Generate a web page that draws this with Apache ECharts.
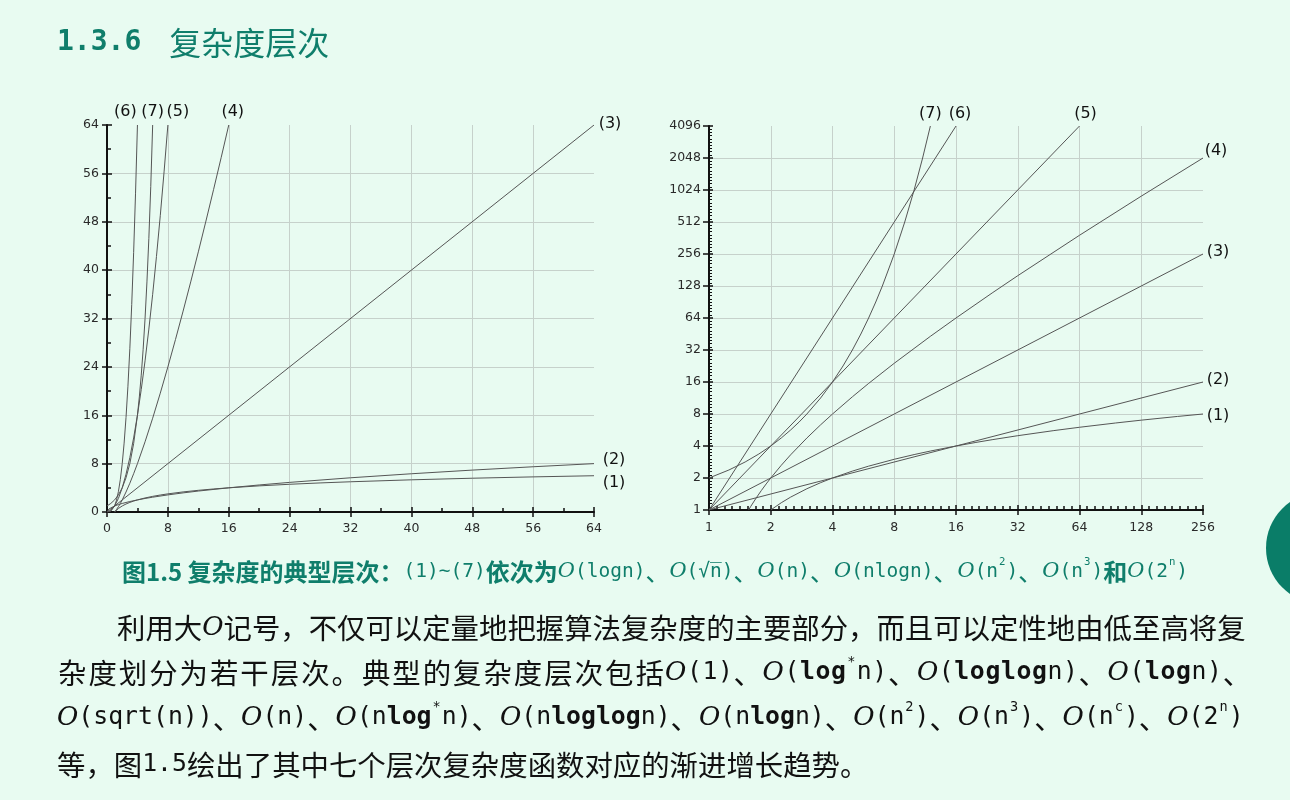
<!DOCTYPE html>
<html><head><meta charset="utf-8">
<script src="https://cdn.jsdelivr.net/npm/echarts@6/dist/echarts.min.js"></script>
<style>html,body{margin:0;padding:0;background:#E8FBF1;}#c{width:1290px;height:800px;}</style>
</head><body><div id="c"></div>
<script>
// ---------------- data ----------------
const seriesNames = ['(1)','(2)','(3)','(4)','(5)','(6)','(7)'];
// left chart (linear axes), [n, f(n)]
const logN_L  = [[1,0],[1.1,0.1375],[1.25,0.322],[1.5,0.585],[1.75,0.807],[2,1],[2.5,1.322],[3,1.585],[3.5,1.807],[4,2],[5,2.322],[6,2.585],[7,2.807],[8,3],[10,3.322],[12,3.585],[14,3.807],[16,4],[20,4.322],[24,4.585],[28,4.807],[32,5],[40,5.322],[48,5.585],[56,5.807],[64,6]];
const sqrtN_L = [[0,0],[0.1,0.316],[0.25,0.5],[0.5,0.707],[1,1],[1.5,1.225],[2,1.414],[3,1.732],[4,2],[5,2.236],[6,2.449],[8,2.828],[10,3.162],[12,3.464],[16,4],[20,4.472],[24,4.899],[32,5.657],[40,6.325],[48,6.928],[56,7.483],[64,8]];
const n_L     = [[0,0],[64,64]];
const nlogn_L = [[1,0],[1.25,0.402],[1.5,0.877],[1.75,1.413],[2,2],[2.5,3.305],[3,4.755],[3.5,6.326],[4,8],[5,11.61],[6,15.51],[7,19.65],[8,24],[9,28.53],[10,33.22],[11,38.05],[12,43.02],[13,48.11],[14,53.3],[15,58.6],[16,64]];
const n2_L    = [[0,0],[0.5,0.25],[1,1],[1.5,2.25],[2,4],[2.5,6.25],[3,9],[3.5,12.25],[4,16],[4.5,20.25],[5,25],[5.5,30.25],[6,36],[6.5,42.25],[7,49],[7.5,56.25],[8,64]];
const n3_L    = [[0,0],[0.5,0.125],[1,1],[1.25,1.953],[1.5,3.375],[1.75,5.359],[2,8],[2.25,11.39],[2.5,15.63],[2.75,20.8],[3,27],[3.25,34.33],[3.5,42.88],[3.75,52.73],[4,64]];
const exp2_L  = [[0,1],[0.5,1.414],[1,2],[1.5,2.828],[2,4],[2.5,5.657],[3,8],[3.5,11.31],[4,16],[4.25,19.03],[4.5,22.63],[4.75,26.91],[5,32],[5.25,38.05],[5.5,45.25],[5.75,53.82],[6,64]];
// right chart (log-log axes)
const logN_R  = [[2,1],[2.25,1.17],[2.5,1.322],[3,1.585],[3.5,1.807],[4,2],[5,2.322],[6,2.585],[8,3],[10,3.322],[12,3.585],[16,4],[20,4.322],[24,4.585],[32,5],[48,5.585],[64,6],[96,6.585],[128,7],[192,7.585],[256,8]];
const sqrtN_R = [[1,1],[256,16]];
const n_R     = [[1,1],[256,256]];
const nlogn_R = [[1.56,1],[1.6,1.085],[1.7,1.301],[1.8,1.526],[1.9,1.759],[2,2],[2.25,2.632],[2.5,3.305],[3,4.755],[3.5,6.326],[4,8],[5,11.61],[6,15.51],[8,24],[12,43.02],[16,64],[24,110],[32,160],[64,384],[128,896],[256,2048]];
const n2_R    = [[1,1],[64,4096]];
const n3_R    = [[1,1],[16,4096]];
const exp2_R  = [[1,2],[1.25,2.378],[1.5,2.828],[1.75,3.364],[2,4],[2.25,4.757],[2.5,5.657],[2.75,6.727],[3,8],[3.5,11.31],[4,16],[4.5,22.63],[5,32],[5.5,45.25],[6,64],[6.5,90.5],[7,128],[8,256],[9,512],[10,1024],[11,2048],[12,4096]];
// tick labels
const leftTicks = [0,8,16,24,32,40,48,56,64];
const rightXTicks = [1,2,4,8,16,32,64,128,256];
const rightYTicks = [1,2,4,8,16,32,64,128,256,512,1024,2048,4096];

// ---------------- styles ----------------
const TEAL = '#0F7E6B';
const AX = '#111';
const GRID = '#c6d1cb';
const LINE = '#555555';
const labelFont = 'DejaVu Sans';
const leftOffsets  = [[20,7],[20,-4],[16,-1],[4,-13],[10,-13],[-12,-13],[0,-13]];
const rightOffsets = [[15,2],[15,-2],[15,-2],[13,-7],[6,-12],[4,-12],[0,-12]];

const leftData = [logN_L, sqrtN_L, n_L, nlogn_L, n2_L, n3_L, exp2_L];
const rightData = [logN_R, sqrtN_R, n_R, nlogn_R, n2_R, n3_R, exp2_R];

function mkSeries(data, i, xi, yi, off) {
  return {
    type:'line', name: seriesNames[i], data: data, xAxisIndex: xi, yAxisIndex: yi,
    showSymbol:false, symbol:'none', smooth:false,
    lineStyle:{color:LINE, width:1}, z: 3,
    endLabel:{show:true, formatter: seriesNames[i], align:'center', verticalAlign:'middle', distance:0,
      offset: off, fontSize:16, color:'#111', fontFamily:labelFont},
    emphasis:{disabled:true}
  };
}
const series = [];
leftData.forEach((d,i)=>series.push(mkSeries(d,i,0,0,leftOffsets[i])));
rightData.forEach((d,i)=>series.push(mkSeries(d,i,2,2,rightOffsets[i])));

const axLabel = {fontSize:12.5, color:'#2a2a2a', fontFamily:labelFont, formatter: v => String(Math.round(v))};
const tickStyle = {color:AX, width:1.5};
const splitL = {show:true, showMaxLine:false, lineStyle:{color:GRID,width:1}};

const option = {
  backgroundColor:'#E8FBF1',
  animation:false,
  grid:[
    {left:107, top:125, width:487, height:387},
    {left:709, top:126, width:494, height:384}
  ],
  xAxis:[
    {gridIndex:0, type:'value', min:0, max:64, interval:8, position:'bottom',
     axisLine:{lineStyle:{color:AX,width:2}}, axisTick:{length:5,lineStyle:tickStyle},
     axisLabel:Object.assign({margin:10, customValues:leftTicks}, axLabel), splitLine:splitL},
    {gridIndex:0, type:'value', min:0, max:64, interval:8, position:'bottom',
     axisLine:{show:false}, axisTick:{inside:true,length:5,lineStyle:tickStyle},
     minorTick:{show:true,splitNumber:2,length:4,lineStyle:tickStyle},
     axisLabel:{show:false}, splitLine:{show:false}},
    {gridIndex:1, type:'log', logBase:2, min:1, max:256, splitNumber:8, position:'bottom',
     axisLine:{lineStyle:{color:AX,width:2}}, axisTick:{length:5,lineStyle:tickStyle, customValues:rightXTicks},
     axisLabel:Object.assign({margin:11, customValues:rightXTicks}, axLabel), splitLine:splitL},
    {gridIndex:1, type:'value', min:0, max:8, interval:1, position:'bottom',
     axisLine:{show:false}, axisTick:{inside:true,length:5,lineStyle:tickStyle},
     minorTick:{show:true,splitNumber:8,length:4,lineStyle:tickStyle},
     axisLabel:{show:false}, splitLine:{show:false}}
  ],
  yAxis:[
    {gridIndex:0, type:'value', min:0, max:64, interval:8, position:'left',
     axisLine:{show:true,lineStyle:{color:AX,width:2}}, axisTick:{show:true,length:5,lineStyle:tickStyle},
     axisLabel:Object.assign({margin:8, customValues:leftTicks}, axLabel), splitLine:splitL},
    {gridIndex:0, type:'value', min:0, max:64, interval:8, position:'left',
     axisLine:{show:false}, axisTick:{show:true,inside:true,length:5,lineStyle:tickStyle},
     minorTick:{show:true,splitNumber:2,length:4,lineStyle:tickStyle},
     axisLabel:{show:false}, splitLine:{show:false}},
    {gridIndex:1, type:'log', logBase:2, min:1, max:4096, splitNumber:12, position:'left',
     axisLine:{show:true,lineStyle:{color:AX,width:2}}, axisTick:{show:true,length:6,lineStyle:tickStyle, customValues:rightYTicks},
     axisLabel:Object.assign({margin:8, customValues:rightYTicks}, axLabel), splitLine:splitL},
    {gridIndex:1, type:'value', min:0, max:12, interval:1, position:'left',
     axisLine:{show:false}, axisTick:{show:true,inside:true,length:4,lineStyle:tickStyle},
     minorTick:{show:true,splitNumber:10,length:3,lineStyle:{color:AX,width:1}},
     axisLabel:{show:false}, splitLine:{show:false}}
  ],
  series: series,
  graphic:[]
};

// ---------------- text ----------------
const CJK = "'Noto Sans CJK SC'";
const MONO = "'DejaVu Sans Mono', 'Noto Sans CJK SC'";
const OFONT = "'DejaVu Serif'";
function richSet(F, M, O, color) {
  const lh = F + 6;
  const pc = [0,1,0,1], pm = [0,0.3,0,0.3];
  return {
    c:{fontFamily:CJK, fontSize:F, fill:color, lineHeight:lh},
    cs:{fontFamily:CJK, fontSize:F, fill:color, lineHeight:lh, padding:pc},
    b:{fontFamily:CJK, fontSize:F, fill:color, fontWeight:'bold', lineHeight:lh},
    m:{fontFamily:MONO, fontSize:M, fill:color, lineHeight:lh},
    ms:{fontFamily:MONO, fontSize:M, fill:color, lineHeight:lh, padding:pm},
    mb:{fontFamily:MONO, fontSize:M, fill:color, fontWeight:'bold', lineHeight:lh},
    mbs:{fontFamily:MONO, fontSize:M, fill:color, fontWeight:'bold', lineHeight:lh, padding:pm},
    o:{fontFamily:OFONT, fontSize:O, fill:color, fontStyle:'italic', lineHeight:lh},
    os:{fontFamily:OFONT, fontSize:O, fill:color, fontStyle:'italic', lineHeight:lh, padding:pm},
    k:{fontFamily:CJK, fontSize:F, fill:color, lineHeight:lh},
    ks:{fontFamily:CJK, fontSize:F, fill:color, lineHeight:lh, padding:pm},
    s:{fontFamily:MONO, fontSize:M*0.55, fill:color, verticalAlign:'top', lineHeight:M*0.55+3, padding:[0,1,0,1]}
  };
}
function sp(style, s) { return Array.from(s).map(ch => '{' + style + '|' + ch + '}').join(''); }
function txt(x, y, text, F, M, O, color) {
  return {type:'text', x:x, y:y, silent:true, z:10,
    style:{text:text, rich:richSet(F,M,O,color), verticalAlign:'middle', align:'left'}};
}
option.graphic.push({type:'text', x:57, y:43, silent:true,
  style:{text:'{a|1.3.6}{g| }{b|复杂度层次}', verticalAlign:'middle', rich:{
    a:{fontFamily:"'DejaVu Sans Mono'", fontWeight:'bold', fontSize:28, fill:TEAL},
    g:{fontSize:28, fill:TEAL, width:28},
    b:{fontFamily:CJK, fontSize:32, fill:TEAL}
  }}});
option.graphic.push(txt(122, 572,
  '{b|图1.5 复杂度的典型层次：}{m|(1)~(7)}{b|依次为}{o|O}{m|(logn)}{k|、}{o|O}{m|(√n\u0305)}{k|、}{o|O}{m|(n)}{k|、}{o|O}{m|(nlogn)}{k|、}{o|O}{m|(n}{s|2}{m|)}{k|、}{o|O}{m|(n}{s|3}{m|)}{b|和}{o|O}{m|(2}{s|n}{m|)}',
  24, 19.5, 21, TEAL));
const PF = 28.4, PM = 24.8, PO = 26, PC = '#111';
option.graphic.push(txt(117, 628, '{c|利用大}{o|O}{c|记号，不仅可以定量地把握算法复杂度的主要部分，而且可以定性地由低至高将复}', PF, PM, PO, PC));
const line2 = sp('cs','杂度划分为若干层次。典型的复杂度层次包括') +
  '{os|O}' + sp('ms','(1)') + '{ks|、}' +
  '{os|O}' + sp('ms','(') + sp('mbs','log') + '{s|*}' + sp('ms','n)') + '{ks|、}' +
  '{os|O}' + sp('ms','(') + sp('mbs','loglog') + sp('ms','n)') + '{ks|、}' +
  '{os|O}' + sp('ms','(') + sp('mbs','log') + sp('ms','n)') + '{ks|、}';
option.graphic.push(txt(57, 673, line2, PF, PM, PO, PC));
option.graphic.push(txt(57, 718, '{o|O}{m|(sqrt(n))}{k|、}{o|O}{m|(n)}{k|、}{o|O}{m|(n}{mb|log}{s|*}{m|n)}{k|、}{o|O}{m|(n}{mb|loglog}{m|n)}{k|、}{o|O}{m|(n}{mb|log}{m|n)}{k|、}{o|O}{m|(n}{s|2}{m|)}{k|、}{o|O}{m|(n}{s|3}{m|)}{k|、}{o|O}{m|(n}{s|c}{m|)}{k|、}{o|O}{m|(2}{s|n}{m|)}', PF, PM, PO, PC));
option.graphic.push(txt(57, 765, '{c|等，图}{m|1.5}{c|绘出了其中七个层次复杂度函数对应的渐进增长趋势。}', PF, PM, PO, PC));
option.graphic.push({type:'circle', shape:{cx:1322, cy:548, r:56}, style:{fill:'#0A7D68'}, silent:true});

const chart = echarts.init(document.getElementById('c'), null, {renderer:'canvas'});
chart.setOption(option);
</script></body></html>
